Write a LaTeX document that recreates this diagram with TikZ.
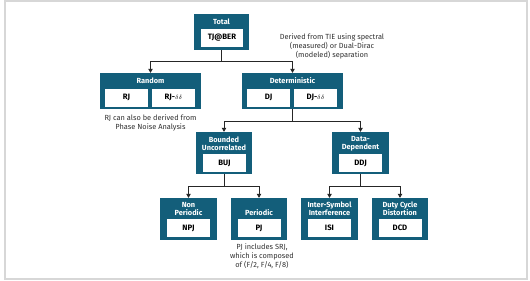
\documentclass[tikz,border=0pt]{standalone}
\usepackage{fontspec}
\setmainfont{Fira Sans}
\usetikzlibrary{arrows.meta, positioning}
\definecolor{bleujit}{RGB}{19,94,122}
\definecolor{grisnote}{RGB}{50,50,50}
\definecolor{cadre}{RGB}{215,215,215}
\newcommand{\dd}{{\fontsize{6.5}{6.5}\selectfont$\delta\delta$}}

\begin{document}
\begin{tikzpicture}[x=1pt, y=-1pt,
	bloc/.style 2 args={fill=bleujit, minimum width=#1pt, minimum height=#2pt, inner sep=0pt},
	titre/.style={text=white, align=center, inner sep=0pt, font=\bfseries\fontsize{7.4}{8.4}\selectfont},
	valeur/.style={fill=white, minimum width=43pt, minimum height=18pt, inner sep=0pt, font=\bfseries\fontsize{7.8}{8}\selectfont},
	note/.style={text=grisnote, align=center, inner sep=0pt, font=\fontsize{7.4}{9}\selectfont},
	lien/.style={black!85, line width=0.8pt},
	fleche/.style={lien, -{Triangle[width=4.5pt,length=4pt]}}]
				\useasboundingbox (0,0) rectangle (530,281);
				\fill[white] (0,0) rectangle (530,281);
				% cadre
				\draw[cadre, line width=1.2pt] (5,1) rectangle (527,279);
				% niveau 1
				\node[bloc={55}{36}] (total) at (221.5,32) {};
				\node[titre] (totalT) at (221.5,22) {Total};
				\node[valeur, minimum width=42pt] (tjber) at (222,38) {TJ@BER};
				% niveau 2
				\node[bloc={101}{36}] (random) at (150.5,91) {};
				\node[titre] (randomT) at (150.5,81) {Random};
				\node[valeur] (rj) at (126.5,97.5) {RJ};
				\node[valeur] (rjdd) at (173.5,97.5) {RJ-\dd};
				\node[bloc={101}{36}] (det) at (292.5,91) {};
				\node[titre] (detT) at (292.5,81) {Deterministic};
				\node[valeur] (dj) at (268.5,97.5) {DJ};
				\node[valeur] (djdd) at (315.5,97.5) {DJ-\dd};
				% niveau 3
				\node[bloc={56}{42}] (buj) at (224,153) {};
				\node[titre] (bujT) at (224,143.5) {Bounded\\Uncorrelated};
				\node[valeur] (bujV) at (224.5,163) {BUJ};
				\node[bloc={57}{42}] (ddj) at (360.5,153) {};
				\node[titre] (ddjT) at (360.5,143.5) {Data-\\Dependent};
				\node[valeur] (ddjV) at (360.5,163) {DDJ};
				% niveau 4
				\node[bloc={57}{42}] (npj) at (188.5,219) {};
				\node[titre] (npjT) at (188.5,209) {Non\\Periodic};
				\node[valeur] (npjV) at (188.5,228) {NPJ};
				\node[bloc={56}{42}] (pj) at (259,219) {};
				\node[titre] (pjT) at (259,213) {Periodic};
				\node[valeur] (pjV) at (259,228) {PJ};
				\node[bloc={57}{42}] (isi) at (329.5,219) {};
				\node[titre] (isiT) at (329.5,209) {Inter-Symbol\\Interference};
				\node[valeur] (isiV) at (329.5,228) {ISI};
				\node[bloc={56}{42}] (dcd) at (400,219) {};
				\node[titre] (dcdT) at (400,209) {Duty Cycle\\Distortion};
				\node[valeur] (dcdV) at (400,228) {DCD};
				% notes
				\node[note] (noteDD) at (332,46) {Derived from TIE using spectral\\(measured) or Dual-Dirac\\(modeled) separation};
				\node[note] (noteRJ) at (150.5,122.5) {RJ can also be derived from\\Phase Noise Analysis};
				\node[note] (notePJ) at (262,256) {PJ includes SRJ,\\which is composed\\of (F/2, F/4, F/8)};
				% liens
				\coordinate (j1) at (221.5,61);
				\coordinate (j2) at (292.5,121);
				\coordinate (j3) at (224,186);
				\coordinate (j4) at (360.5,186);
				\foreach \p/\j in {total/j1, det/j2, buj/j3, ddj/j4}
				\draw[lien] (\p.south) -- (\j);
				\foreach \j/\e in {j1/random, j1/det, j2/buj, j2/ddj, j3/npj, j3/pj, j4/isi, j4/dcd}
				\draw[fleche] (\j) -| (\e.north);
			\end{tikzpicture}
\end{document}
